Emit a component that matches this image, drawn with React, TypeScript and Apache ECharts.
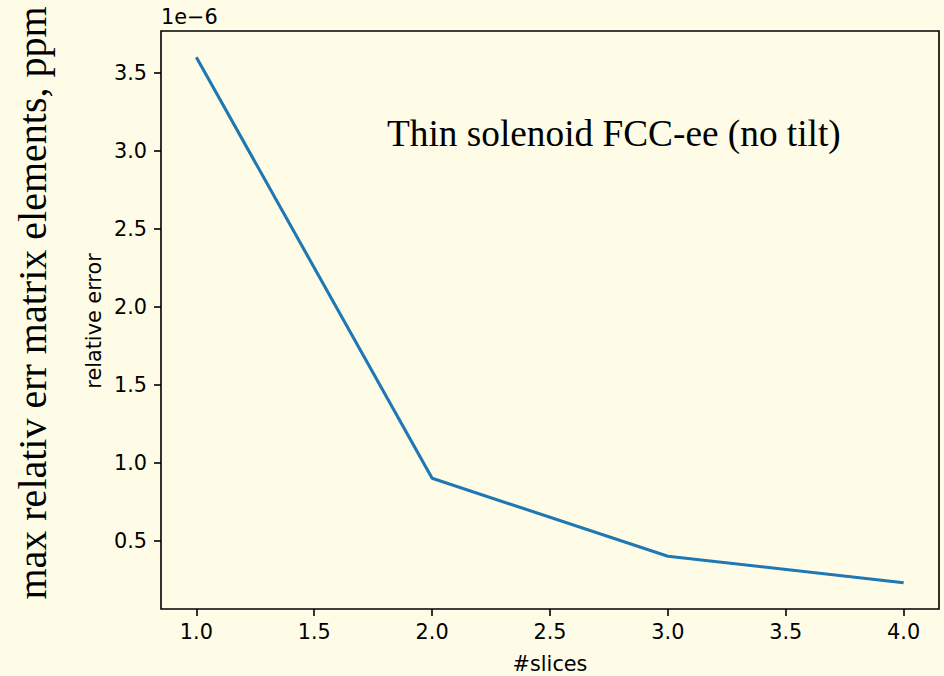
import React, { useEffect, useRef } from "react";
import * as echarts from "echarts";

// Number of slices vs. max relative error of the transfer-matrix elements
const slices = [1, 2, 3, 4];
const relError = [3.6e-6, 0.9e-6, 0.4e-6, 0.23e-6];
const xTicks = [1.0, 1.5, 2.0, 2.5, 3.0, 3.5, 4.0];
const yTicks = [0.5e-6, 1.0e-6, 1.5e-6, 2.0e-6, 2.5e-6, 3.0e-6, 3.5e-6];

const BG = "#fefce6";
const SANS = "DejaVu Sans";
const SERIF = "Liberation Serif";
const SANS_SIZE = 20.8;

// matplotlib-style 5% padding around the data range
function padded(values: number[]): [number, number] {
  const lo = Math.min(...values);
  const hi = Math.max(...values);
  const m = (hi - lo) * 0.05;
  return [lo - m, hi + m];
}

export default function App() {
  const ref = useRef<HTMLDivElement>(null);

  useEffect(() => {
    if (!ref.current) return;
    const chart = echarts.init(ref.current, undefined, { renderer: "svg" });
    const [xMin, xMax] = padded(slices);
    const [yMin, yMax] = padded(relError);

    chart.setOption({
      animation: false,
      backgroundColor: BG,
      grid: {
        left: 161,
        top: 31,
        width: 778,
        height: 578,
        show: true,
        backgroundColor: BG,
        borderColor: "#000",
        borderWidth: 1.6,
      },
      xAxis: {
        type: "value",
        min: xMin,
        max: xMax,
        axisLine: { show: false },
        splitLine: { show: false },
        axisTick: {
          show: true,
          length: 7,
          customValues: xTicks,
          lineStyle: { color: "#000", width: 1.6 },
        },
        axisLabel: {
          customValues: xTicks,
          margin: 12,
          fontSize: SANS_SIZE,
          fontFamily: SANS,
          color: "#000",
          formatter: (v: number) => v.toFixed(1),
        },
      },
      yAxis: {
        type: "value",
        min: yMin,
        max: yMax,
        axisLine: { show: false },
        splitLine: { show: false },
        axisTick: {
          show: true,
          length: 7,
          customValues: yTicks,
          lineStyle: { color: "#000", width: 1.6 },
        },
        axisLabel: {
          customValues: yTicks,
          margin: 14,
          fontSize: SANS_SIZE,
          fontFamily: SANS,
          color: "#000",
          formatter: (v: number) => (v * 1e6).toFixed(1),
        },
      },
      series: [
        {
          type: "line",
          data: slices.map((s, i) => [s, relError[i]]),
          symbol: "none",
          lineStyle: { color: "#1f77b4", width: 3.1 },
        },
      ],
      graphic: [
        {
          type: "text",
          x: 161,
          y: 17,
          style: {
            text: "1e\u22126",
            fontSize: SANS_SIZE,
            fontFamily: SANS,
            fill: "#000",
            align: "left",
            verticalAlign: "middle",
          },
        },
        {
          type: "text",
          x: 387,
          y: 133,
          style: {
            text: "Thin solenoid FCC-ee (no tilt)",
            fontSize: 37.3,
            fontFamily: SERIF,
            fill: "#000",
            align: "left",
            verticalAlign: "middle",
          },
        },
        {
          type: "text",
          x: 550,
          y: 664,
          style: {
            text: "#slices",
            fontSize: SANS_SIZE,
            fontFamily: SANS,
            fill: "#000",
            align: "center",
            verticalAlign: "middle",
          },
        },
        {
          type: "text",
          x: 94,
          y: 321,
          rotation: Math.PI / 2,
          style: {
            text: "relative error",
            fontSize: SANS_SIZE,
            fontFamily: SANS,
            fill: "#000",
            align: "center",
            verticalAlign: "middle",
          },
        },
        {
          type: "text",
          x: 32,
          y: 303,
          rotation: Math.PI / 2,
          style: {
            text: "max relativ err matrix elements, ppm",
            fontSize: 40,
            fontFamily: SERIF,
            fill: "#000",
            align: "center",
            verticalAlign: "middle",
          },
        },
      ],
    });

    return () => chart.dispose();
  }, []);

  return (
    <div
      ref={ref}
      style={{ position: "fixed", left: 0, top: 0, width: 944, height: 676 }}
    />
  );
}
